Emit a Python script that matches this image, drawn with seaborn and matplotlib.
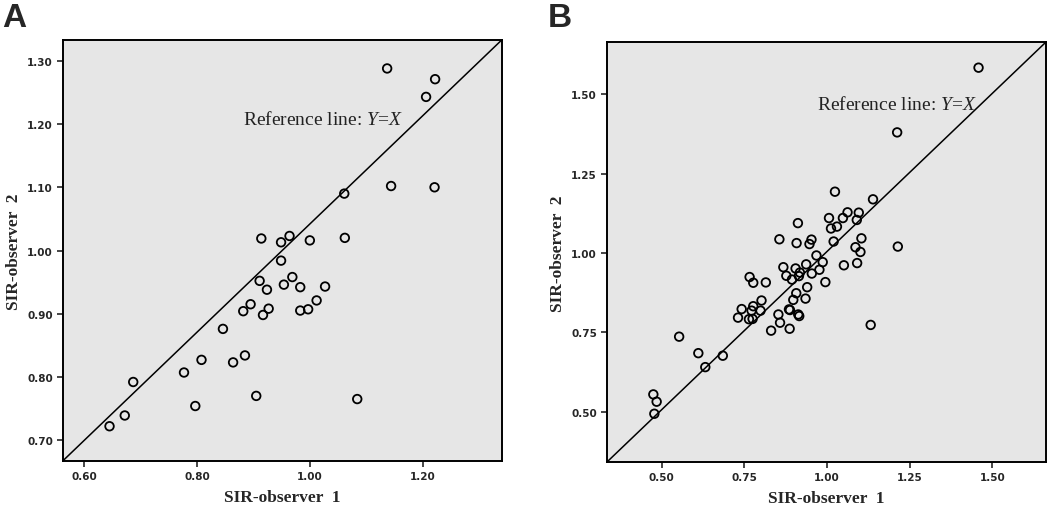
import numpy as np
import pandas as pd
import matplotlib
matplotlib.use("Agg")
import matplotlib.pyplot as plt
import seaborn as sns

# Panel A: SIR values
a_obs1 = [1.137, 1.222, 1.206, 1.144, 1.221, 1.061, 0.914, 0.949, 0.964, 1.000,
          1.062, 0.949, 0.911, 0.924, 0.969, 0.954, 0.983, 1.027, 1.012, 0.983,
          0.997, 0.882, 0.895, 0.917, 0.927, 0.846, 0.808, 0.885, 0.864, 0.777,
          0.687, 0.797, 0.905, 1.084, 0.672, 0.645]
a_obs2 = [1.288, 1.271, 1.243, 1.102, 1.100, 1.090, 1.019, 1.013, 1.023, 1.016,
          1.020, 0.984, 0.952, 0.938, 0.958, 0.946, 0.942, 0.943, 0.921, 0.905,
          0.907, 0.904, 0.915, 0.898, 0.908, 0.876, 0.827, 0.834, 0.823, 0.807,
          0.792, 0.754, 0.770, 0.765, 0.739, 0.722]

# Panel B
b_obs1 = [1.458, 1.212, 1.214, 1.132, 1.024, 1.139, 0.912, 1.006, 1.012, 1.030,
          1.048, 1.062, 1.096, 1.090, 0.856, 0.908, 0.947, 0.953, 1.020, 1.104,
          1.086, 1.101, 0.968, 0.987, 0.937, 1.051, 1.091, 0.868, 0.905, 0.877,
          0.894, 0.915, 0.918, 0.954, 0.977, 0.995, 0.766, 0.777, 0.815, 0.940,
          0.907, 0.898, 0.935, 0.802, 0.777, 0.742, 0.772, 0.799, 0.885, 0.888,
          0.731, 0.764, 0.775, 0.853, 0.913, 0.916, 0.858, 0.831, 0.887, 0.553,
          0.611, 0.685, 0.632, 0.475, 0.485, 0.478]
b_obs2 = [1.584, 1.380, 1.020, 0.773, 1.193, 1.169, 1.094, 1.110, 1.077, 1.083,
          1.110, 1.128, 1.127, 1.104, 1.043, 1.031, 1.028, 1.042, 1.036, 1.046,
          1.018, 1.003, 0.992, 0.971, 0.964, 0.961, 0.968, 0.955, 0.951, 0.928,
          0.916, 0.927, 0.938, 0.935, 0.947, 0.908, 0.924, 0.906, 0.907, 0.892,
          0.873, 0.852, 0.856, 0.850, 0.832, 0.823, 0.818, 0.818, 0.822, 0.820,
          0.796, 0.791, 0.792, 0.806, 0.806, 0.801, 0.780, 0.755, 0.761, 0.736,
          0.684, 0.676, 0.640, 0.554, 0.531, 0.493]

a_ticks_x = [0.60, 0.80, 1.00, 1.20]
a_ticks_y = [0.70, 0.80, 0.90, 1.00, 1.10, 1.20, 1.30]
b_ticks = [0.50, 0.75, 1.00, 1.25, 1.50]

sns.set_style("ticks")
plt.rcParams["mathtext.fontset"] = "custom"
plt.rcParams["mathtext.rm"] = "Liberation Serif"
plt.rcParams["mathtext.it"] = "Liberation Serif:italic"

fig = plt.figure(figsize=(10.5, 5.1), dpi=100)
ax_a = fig.add_axes([0.0597, 0.0941, 0.4181, 0.8255])
ax_b = fig.add_axes([0.5778, 0.0916, 0.4181, 0.8235])

panels = [
    (ax_a, a_obs1, a_obs2, a_ticks_x, a_ticks_y, (0.562, 1.340), (0.667, 1.333), (0.882, 1.208), "A"),
    (ax_b, b_obs1, b_obs2, b_ticks, b_ticks, (0.334, 1.661), (0.340, 1.664), (0.969, 1.470), "B"),
]

for ax, xs, ys, xt, yt, xl, yl, txt_pos, letter in panels:
    df = pd.DataFrame({"obs1": xs, "obs2": ys})
    ax.set_facecolor("#e6e6e6")
    sns.scatterplot(data=df, x="obs1", y="obs2", ax=ax, marker="o", s=38,
                    facecolor="none", edgecolor="black", linewidth=1.3, zorder=3)
    # reference line drawn corner to corner as in the original
    ax.plot([0, 1], [0, 1], transform=ax.transAxes, color="black", lw=1.1, zorder=2)
    ax.set_xlim(*xl)
    ax.set_ylim(*yl)
    ax.set_xticks(xt)
    ax.set_yticks(yt)
    ax.set_xticklabels([f"{v:.2f}" for v in xt])
    ax.set_yticklabels([f"{v:.2f}" for v in yt])
    ax.tick_params(direction="out", length=4, width=1.2, labelsize=7.5, pad=3)
    for lab in ax.get_xticklabels() + ax.get_yticklabels():
        lab.set_fontweight("bold")
    for sp in ax.spines.values():
        sp.set_visible(True)
        sp.set_linewidth(1.4)
        sp.set_color("black")
    ax.set_xlabel("SIR-observer  1", fontsize=12.5, fontweight="bold",
                  family="Liberation Serif", labelpad=6)
    ax.set_ylabel("SIR-observer  2", fontsize=12.5, fontweight="bold",
                  family="Liberation Serif", labelpad=4)
    ax.text(txt_pos[0], txt_pos[1], r"Reference line: $Y$=$X$", fontsize=14,
            family="Liberation Serif", color="#222222", va="center", ha="left", zorder=4)

fig.text(0.002, 0.995, "A", fontsize=24, fontweight="bold", family="Liberation Sans",
         va="top", ha="left")
fig.text(0.522, 0.995, "B", fontsize=24, fontweight="bold", family="Liberation Sans",
         va="top", ha="left")

fig.savefig("out.png", dpi=100)
